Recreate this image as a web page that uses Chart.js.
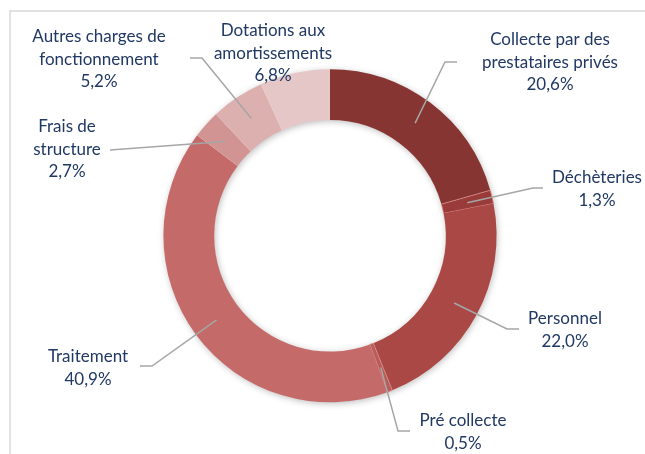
<!DOCTYPE html>
<html lang="fr">
<head>
<meta charset="utf-8">
<title>Répartition des charges</title>
<script src="https://cdn.jsdelivr.net/npm/chart.js@4.4.1/dist/chart.umd.min.js"></script>
<style>
    html, body { margin: 0; padding: 0; background: #ffffff; }
    #wrap { position: relative; width: 645px; height: 454px; overflow: hidden; }
</style>
</head>
<body>
<div id="wrap">
    <canvas id="donutChart" width="645" height="454"></canvas>
</div>
<script>
// Données (sens horaire depuis midi)
const categories = [
    ["Collecte par des", "prestataires privés"],
    ["Déchèteries"],
    ["Personnel"],
    ["Pré collecte"],
    ["Traitement"],
    ["Frais de", "structure"],
    ["Autres charges de", "fonctionnement"],
    ["Dotations aux", "amortissements"]
];
const parts = [20.6, 1.3, 22.0, 0.5, 40.9, 2.7, 5.2, 6.8];
const couleurs = ["#873533", "#983b39", "#aa4846", "#b85c5a", "#c46a69", "#d29493", "#ddb0b0", "#e5c7c7"];

// Placement des étiquettes : centre du texte, coude et fin du trait de rappel
const etiquettes = [
    { x: 550, y: 40,  coude: [445, 62],  fin: [457, 62] },
    { x: 597, y: 178, coude: [533, 188], fin: [543, 188] },
    { x: 565, y: 319, coude: [507, 329], fin: [519, 329] },
    { x: 463, y: 421, coude: [398, 431], fin: [410, 431] },
    { x: 88,  y: 357, coude: [152, 366], fin: [140, 366] },
    { x: 67,  y: 127, coude: [110, 150], fin: [110, 150] },
    { x: 99,  y: 37,  coude: [202, 58],  fin: [190, 58] },
    { x: 273, y: 31,  coude: null,       fin: null }
];

const POLICE = "17px Lato, 'Open Sans', sans-serif";
const INTERLIGNE = 22.5;

function formatPct(v) {
    return v.toFixed(1).replace(".", ",") + "%";
}

// Cadre gris clair (bords haut et gauche visibles)
const cadrePlugin = {
    id: "cadre",
    beforeDraw(chart) {
        const ctx = chart.ctx;
        ctx.save();
        ctx.strokeStyle = "#d9d9d9";
        ctx.lineWidth = 1.5;
        ctx.beginPath();
        ctx.moveTo(10, 460);
        ctx.lineTo(10, 11);
        ctx.lineTo(660, 11);
        ctx.stroke();
        ctx.restore();
    }
};

// Ombre légère sous l'anneau
const ombrePlugin = {
    id: "ombre",
    beforeDatasetsDraw(chart) {
        const arc = chart.getDatasetMeta(0).data[0];
        if (!arc) return;
        const { x, y, innerRadius, outerRadius } = arc.getProps(["x", "y", "innerRadius", "outerRadius"], true);
        const ctx = chart.ctx;
        ctx.save();
        ctx.shadowColor = "rgba(0,0,0,0.28)";
        ctx.shadowBlur = 7;
        ctx.shadowOffsetX = 1;
        ctx.shadowOffsetY = 1.5;
        ctx.fillStyle = "#ffffff";
        ctx.beginPath();
        ctx.arc(x, y, outerRadius - 0.5, 0, Math.PI * 2);
        ctx.arc(x, y, innerRadius + 0.5, Math.PI * 2, 0, true);
        ctx.closePath();
        ctx.fill();
        ctx.restore();
    }
};

// Étiquettes et traits de rappel
const etiquettesPlugin = {
    id: "etiquettes",
    afterDatasetsDraw(chart) {
        const ctx = chart.ctx;
        const meta = chart.getDatasetMeta(0);
        ctx.save();
        meta.data.forEach(function (arc, i) {
            const lay = etiquettes[i];
            const p = arc.getProps(["x", "y", "startAngle", "endAngle", "innerRadius", "outerRadius"], true);
            if (lay.coude) {
                const a = (p.startAngle + p.endAngle) / 2;
                const r = (p.innerRadius + p.outerRadius) / 2;
                ctx.strokeStyle = "#a6a6a6";
                ctx.lineWidth = 1.5;
                ctx.beginPath();
                ctx.moveTo(p.x + r * Math.cos(a), p.y + r * Math.sin(a));
                ctx.lineTo(lay.coude[0], lay.coude[1]);
                ctx.lineTo(lay.fin[0], lay.fin[1]);
                ctx.stroke();
            }
            const lignes = categories[i].concat([formatPct(parts[i])]);
            ctx.fillStyle = "#203864";
            ctx.font = POLICE;
            ctx.textAlign = "center";
            ctx.textBaseline = "middle";
            lignes.forEach(function (t, k) {
                ctx.fillText(t, lay.x, lay.y + k * INTERLIGNE);
            });
        });
        ctx.restore();
    }
};

const ctx = document.getElementById("donutChart").getContext("2d");

new Chart(ctx, {
    type: "doughnut",
    data: {
        labels: categories,
        datasets: [
            {
                data: parts,
                backgroundColor: couleurs,
                borderColor: ["rgba(0,0,0,0)", "#d98a88", "rgba(0,0,0,0)", "#d98a88", "rgba(0,0,0,0)", "rgba(0,0,0,0)", "rgba(0,0,0,0)", "rgba(0,0,0,0)"],
                borderWidth: [0, 0.8, 0, 0.8, 0, 0, 0, 0]
            }
        ]
    },
    options: {
        responsive: false,
        animation: false,
        cutout: "69.5%",
        layout: {
            padding: { left: 163, right: 148, top: 68.5, bottom: 51 }
        },
        plugins: {
            legend: { display: false },
            tooltip: { enabled: false }
        }
    },
    plugins: [cadrePlugin, ombrePlugin, etiquettesPlugin]
});
</script>
</body>
</html>
